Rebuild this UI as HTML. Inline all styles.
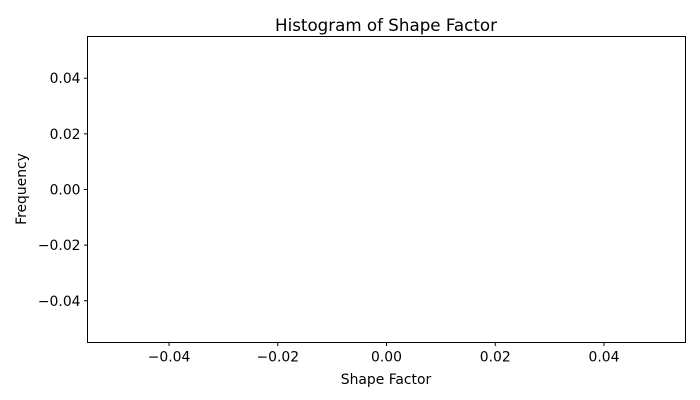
<!DOCTYPE html>
<html><head><meta charset="utf-8"><style>
body{margin:0;background:#fff;}
svg{display:block;font-family:"DejaVu Sans","Liberation Sans",sans-serif;}
</style></head><body>
<svg id="chart" width="700" height="400">
<text x="386" y="31" font-size="16.7" text-anchor="middle">Histogram of Shape Factor</text>
<text x="386" y="384" font-size="13.9" text-anchor="middle">Shape Factor</text>
<text x="0" y="0" font-size="13.9" text-anchor="middle" transform="translate(26,189) rotate(-90)">Frequency</text>
<g id="ticks"></g>
<g id="bars"></g>
<rect x="87.5" y="36.5" width="598" height="306" fill="none" stroke="#000" stroke-width="1"/>
</svg>
<script>
const binEdges = [];
const counts = [];
const xTicks = [-0.04, -0.02, 0.00, 0.02, 0.04];
const yTicks = [-0.04, -0.02, 0.00, 0.02, 0.04];
const xTickLabels = ["−0.04","−0.02","0.00","0.02","0.04"];
const yTickLabels = ["−0.04","−0.02","0.00","0.02","0.04"];
const L=87.5,R=685.5,T=36.5,B=342.5;
const xMin=-0.055,xMax=0.055,yMin=-0.055,yMax=0.055;
const sx=v=>L+(v-xMin)/(xMax-xMin)*(R-L);
const sy=v=>B-(v-yMin)/(yMax-yMin)*(B-T);
const NS="http://www.w3.org/2000/svg";
const tg=document.getElementById('ticks');
xTicks.forEach((v,i)=>{
  const x=sx(v);
  const l=document.createElementNS(NS,'line');
  l.setAttribute('x1',x);l.setAttribute('x2',x);l.setAttribute('y1',B);l.setAttribute('y2',B+3.5);l.setAttribute('stroke','#000');
  
  
  tg.appendChild(l);
  const t=document.createElementNS(NS,'text');
  t.setAttribute('x',x);t.setAttribute('y',B+19);t.setAttribute('font-size','13.9');t.setAttribute('text-anchor','middle');
  t.textContent=xTickLabels[i];
  
  
  tg.appendChild(t);
});
yTicks.forEach((v,i)=>{
  const y=sy(v);
  const l=document.createElementNS(NS,'line');
  l.setAttribute('x1',L-3.5);l.setAttribute('x2',L);l.setAttribute('y1',y);l.setAttribute('y2',y);l.setAttribute('stroke','#000');
  
  
  tg.appendChild(l);
  const t=document.createElementNS(NS,'text');
  t.setAttribute('x',L-7);t.setAttribute('y',y+5);t.setAttribute('font-size','13.9');t.setAttribute('text-anchor','end');
  t.textContent=yTickLabels[i];
  
  
  tg.appendChild(t);
});
const bg=document.getElementById('bars');
counts.forEach((c,i)=>{
  const r=document.createElementNS(NS,'rect');
  const x0=sx(binEdges[i]),x1=sx(binEdges[i+1]);
  r.setAttribute('x',x0);r.setAttribute('width',x1-x0);
  r.setAttribute('y',sy(c));r.setAttribute('height',sy(0)-sy(c));
  r.setAttribute('fill','#1f77b4');
  
  
  bg.appendChild(r);
});
</script>
</body></html>
